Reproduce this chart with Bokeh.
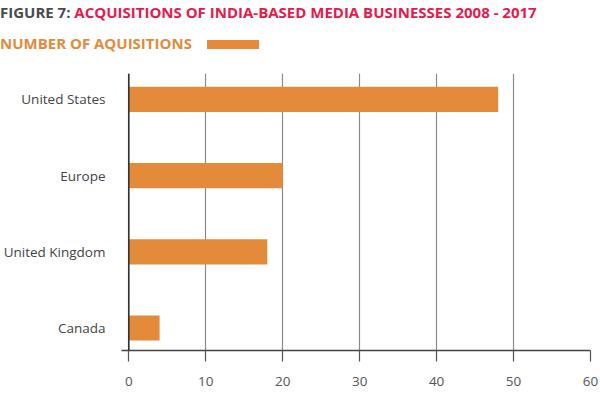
from bokeh.plotting import figure
from bokeh.layouts import column
from bokeh.models import Range1d, FixedTicker, Span, Div
from bokeh.embed import file_html
from bokeh.resources import INLINE

# data (top to bottom as in the chart)
regions = ["United States", "Europe", "United Kingdom", "Canada"]
acquisitions = [48, 20, 18, 4]
x_ticks = [0, 10, 20, 30, 40, 50, 60]

title_prefix = "FIGURE 7:"
title_main = "ACQUISITIONS OF INDIA-BASED MEDIA BUSINESSES 2008 - 2017"
legend_text = "NUMBER OF AQUISITIONS"

BAR = "#e38a3b"
RED = "#e8194b"
DARK = "#4a4a4a"
FONT = "Open Sans"

W = 598
HEAD_H = 54
CHART_H = 397 - HEAD_H

# ---------- header (title + legend) ----------
header_html = f"""
<div style="position:relative;width:{W}px;height:{HEAD_H}px;font-family:'{FONT}';font-weight:700;">
  <div style="position:absolute;left:0;top:2px;font-size:15px;line-height:20px;white-space:nowrap;">
    <span style="color:{DARK};">{title_prefix}</span>&nbsp;<span style="color:{RED};">{title_main}</span>
  </div>
  <div style="position:absolute;left:0;top:33px;font-size:15px;line-height:20px;white-space:nowrap;color:{BAR};">{legend_text}</div>
  <div style="position:absolute;left:207px;top:40px;width:52px;height:9px;background:{BAR};"></div>
</div>
"""
head = Div(text=header_html, width=W, height=HEAD_H, margin=(0, 0, 0, 0))

# ---------- chart ----------
n = len(regions)
ypos = [n - 1 - i for i in range(n)]  # US at top

p = figure(width=W, height=CHART_H, output_backend="svg", toolbar_location=None,
           x_range=Range1d(-0.95, 60), y_range=Range1d(-0.295, 3.34),
           min_border_left=110, min_border_right=8, min_border_top=19, min_border_bottom=47)
p.outline_line_color = None
p.margin = (0, 0, 0, 0)

p.hbar(y=ypos, right=acquisitions, left=0, height=0.33, fill_color=BAR, line_color=None)

p.ygrid.grid_line_color = None
p.xgrid.ticker = FixedTicker(ticks=x_ticks)
p.xgrid.grid_line_color = "#8a8a8a"
p.xgrid.grid_line_width = 1.2

p.add_layout(Span(location=0, dimension="height", line_color="#333333", line_width=1.6))

xa = p.xaxis[0]
xa.ticker = FixedTicker(ticks=x_ticks)
xa.axis_line_color = "#444444"
xa.axis_line_width = 1.6
xa.major_tick_line_color = "#555555"
xa.major_tick_line_width = 1.2
xa.major_tick_out = 11
xa.major_tick_in = 0
xa.minor_tick_line_color = None
xa.major_label_standoff = 15
xa.major_label_text_font = FONT
xa.major_label_text_font_size = "13.5px"
xa.major_label_text_color = "#555555"

ya = p.yaxis[0]
ya.ticker = FixedTicker(ticks=ypos)
ya.major_label_overrides = {y: r for y, r in zip(ypos, regions)}
ya.axis_line_color = None
ya.major_tick_line_color = None
ya.minor_tick_line_color = None
ya.major_label_standoff = 10
ya.major_label_text_font = FONT
ya.major_label_text_font_size = "13.5px"
ya.major_label_text_color = "#444444"

layout = column(head, p, spacing=0)
open("out.html", "w").write(file_html(layout, INLINE))
